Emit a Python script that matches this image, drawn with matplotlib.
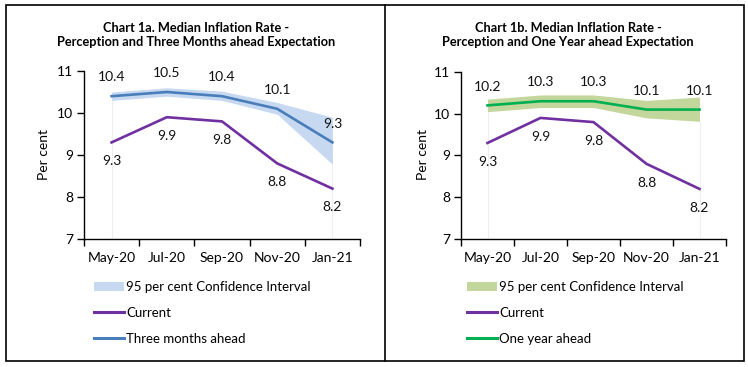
import matplotlib
matplotlib.use("Agg")
import matplotlib.pyplot as plt
from matplotlib.patches import Rectangle, Patch
from matplotlib.lines import Line2D

plt.rcParams['font.family'] = ['Lato', 'DejaVu Sans']

# dados dos dois gráficos
meses = ["May-20", "Jul-20", "Sep-20", "Nov-20", "Jan-21"]
atual = [9.3, 9.9, 9.8, 8.8, 8.2]

tres_meses = [10.4, 10.5, 10.4, 10.1, 9.3]
tres_meses_inf = [10.3, 10.4, 10.3, 9.97, 8.78]
tres_meses_sup = [10.5, 10.6, 10.52, 10.25, 9.9]

um_ano = [10.2, 10.3, 10.3, 10.1, 10.1]
um_ano_inf = [10.05, 10.15, 10.15, 9.9, 9.82]
um_ano_sup = [10.35, 10.45, 10.45, 10.32, 10.4]

W, H = 748, 367
COR_ATUAL = "#7030A0"


def px(x0, y0, x1, y1):
    # converter caixa em pixeis para fração da figura
    return [x0 / W, 1 - y1 / H, (x1 - x0) / W, (y1 - y0) / H]


def plot_painel(fig, caixa, titulo, x_titulo, serie, inf, sup, cor, cor_banda, nome, x_leg, x_ylabel):
    ax = fig.add_axes(px(*caixa))
    x = list(range(len(meses)))

    # linhas verticais ténues nas extremidades
    ax.vlines([x[0], x[-1]], 7, [inf[0], inf[-1]], color="#eeeeee", lw=0.8, zorder=0)

    ax.fill_between(x, inf, sup, color=cor_banda, lw=0, zorder=1)
    ax.plot(x, atual, color=COR_ATUAL, lw=1.9, zorder=3)
    ax.plot(x, serie, color=cor, lw=1.9, zorder=3)

    # rótulos dos valores
    for xi, v in zip(x, serie):
        ax.annotate(f"{v:.1f}", (xi, v), xytext=(0, 13.5), textcoords="offset points",
                    ha="center", va="center", fontsize=10, color="#111111")
    for xi, v in zip(x, atual):
        ax.annotate(f"{v:.1f}", (xi, v), xytext=(0, -13.5), textcoords="offset points",
                    ha="center", va="center", fontsize=10, color="#111111")

    ax.set_xlim(-0.5, len(meses) - 0.5)
    ax.set_ylim(7, 11)
    ax.set_yticks([7, 8, 9, 10, 11])
    ax.set_xticks(x)
    ax.set_xticklabels(meses)
    ax.set_xticks([i - 0.5 for i in range(len(meses) + 1)], minor=True)
    ax.tick_params(axis="x", which="major", length=0, pad=9, labelsize=10)
    ax.tick_params(axis="x", which="minor", length=5, width=1, direction="out")
    ax.tick_params(axis="y", length=5, width=1, labelsize=10, pad=3)
    for lado in ["top", "right"]:
        ax.spines[lado].set_visible(False)
    ax.spines["left"].set_linewidth(1)
    ax.spines["bottom"].set_linewidth(1)

    fig.text(x_ylabel / W, 1 - 155 / H, "Per cent", rotation=90, ha="center", va="center", fontsize=10)
    fig.text(x_titulo / W, 1 - 35 / H, titulo, ha="center", va="center", fontsize=9.2,
             fontweight="bold", linespacing=1.3)

    # legenda
    itens = [Patch(facecolor=cor_banda, edgecolor="none"),
             Line2D([], [], color=COR_ATUAL, lw=2.2),
             Line2D([], [], color=cor, lw=2.2)]
    textos = ["95 per cent Confidence Interval", "Current", nome]
    fig.legend(itens, textos, loc="upper left", bbox_to_anchor=(x_leg / W, 1 - 281 / H),
               frameon=False, fontsize=9.5, handlelength=2.25, handleheight=0.75, handletextpad=0.2,
               labelspacing=1.05, borderpad=0, borderaxespad=0)


fig = plt.figure(figsize=(W / 100, H / 100), dpi=100)

plot_painel(fig, (84, 71, 360, 239),
            "Chart 1a. Median Inflation Rate -\nPerception and Three Months ahead Expectation", 196,
            tres_meses, tres_meses_inf, tres_meses_sup, "#4A7EBB", "#C6D9F1",
            "Three months ahead", 94, 44)
plot_painel(fig, (461, 72, 726, 239),
            "Chart 1b. Median Inflation Rate -\nPerception and One Year ahead Expectation", 568,
            um_ano, um_ano_inf, um_ano_sup, "#00B050", "#C3D69B",
            "One year ahead", 467, 423)

# moldura exterior e divisória
fig.patches.append(Rectangle((6 / W, 1 - 361 / H), 738 / W, 356 / H, transform=fig.transFigure,
                             fill=False, edgecolor="black", lw=1.2))
fig.lines.append(Line2D([385 / W, 385 / W], [1 - 361 / H, 1 - 5 / H], transform=fig.transFigure,
                        color="black", lw=1.2))

fig.savefig("out.png", dpi=100)
